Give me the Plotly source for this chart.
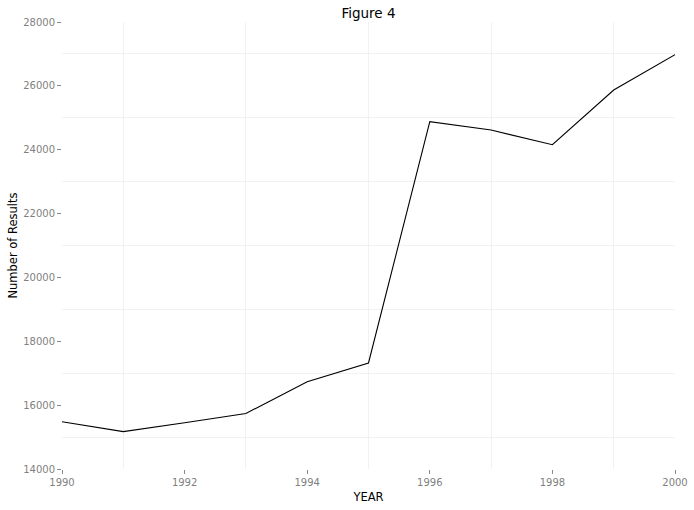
import plotly.graph_objects as go

years = [1990, 1991, 1992, 1993, 1994, 1995, 1996, 1997, 1998, 1999, 2000]
results = [15480, 15170, 15450, 15740, 16730, 17320, 24880, 24615, 24155, 25870, 26975]

x_ticks = [1990, 1992, 1994, 1996, 1998, 2000]
y_ticks = [14000, 16000, 18000, 20000, 22000, 24000, 26000, 28000]

FONT = "DejaVu Sans"

fig = go.Figure()
fig.add_trace(go.Scatter(x=years, y=results, mode="lines",
                         line=dict(color="black", width=1.1), showlegend=False))

fig.update_layout(
    width=694, height=510,
    margin=dict(l=62, r=19, t=22, b=41, autoexpand=False),
    paper_bgcolor="white", plot_bgcolor="white",
    font=dict(family=FONT, color="black"),
    title=dict(text="Figure 4", x=0.5, xanchor="center", y=0.974, yanchor="middle",
               xref="paper", yref="container",
               font=dict(family=FONT, size=13.5, color="black")),
)
fig.update_xaxes(
    range=[1990, 2000], tickvals=x_ticks, ticktext=[str(v) for v in x_ticks],
    showgrid=False, zeroline=False, showline=False, automargin=False,
    ticks="outside", ticklen=4, tickcolor="#8a8a8a", tickwidth=1,
    tickfont=dict(family=FONT, size=10, color="#7f7f7f"),
    title=dict(text="YEAR", font=dict(family=FONT, size=11.5, color="black"), standoff=5),
    minor=dict(tickvals=[1991, 1993, 1995, 1997, 1999], showgrid=True,
               gridcolor="#f2f2f2", gridwidth=1, ticks=""),
)
fig.update_yaxes(
    range=[14000, 28000], tickvals=y_ticks, ticktext=[str(v) for v in y_ticks],
    showgrid=False, zeroline=False, showline=False, automargin=False,
    ticks="outside", ticklen=4, tickcolor="#8a8a8a", tickwidth=1,
    tickfont=dict(family=FONT, size=10, color="#7f7f7f"),
    title=dict(text="Number of Results", font=dict(family=FONT, size=11.5, color="black"), standoff=3),
    minor=dict(tickvals=[15000, 17000, 19000, 21000, 23000, 25000, 27000], showgrid=True,
               gridcolor="#f2f2f2", gridwidth=1, ticks=""),
)

fig.write_html("out.html", config={"displayModeBar": False},
               post_script="document.body.style.margin='0';document.body.style.overflow='hidden';")
